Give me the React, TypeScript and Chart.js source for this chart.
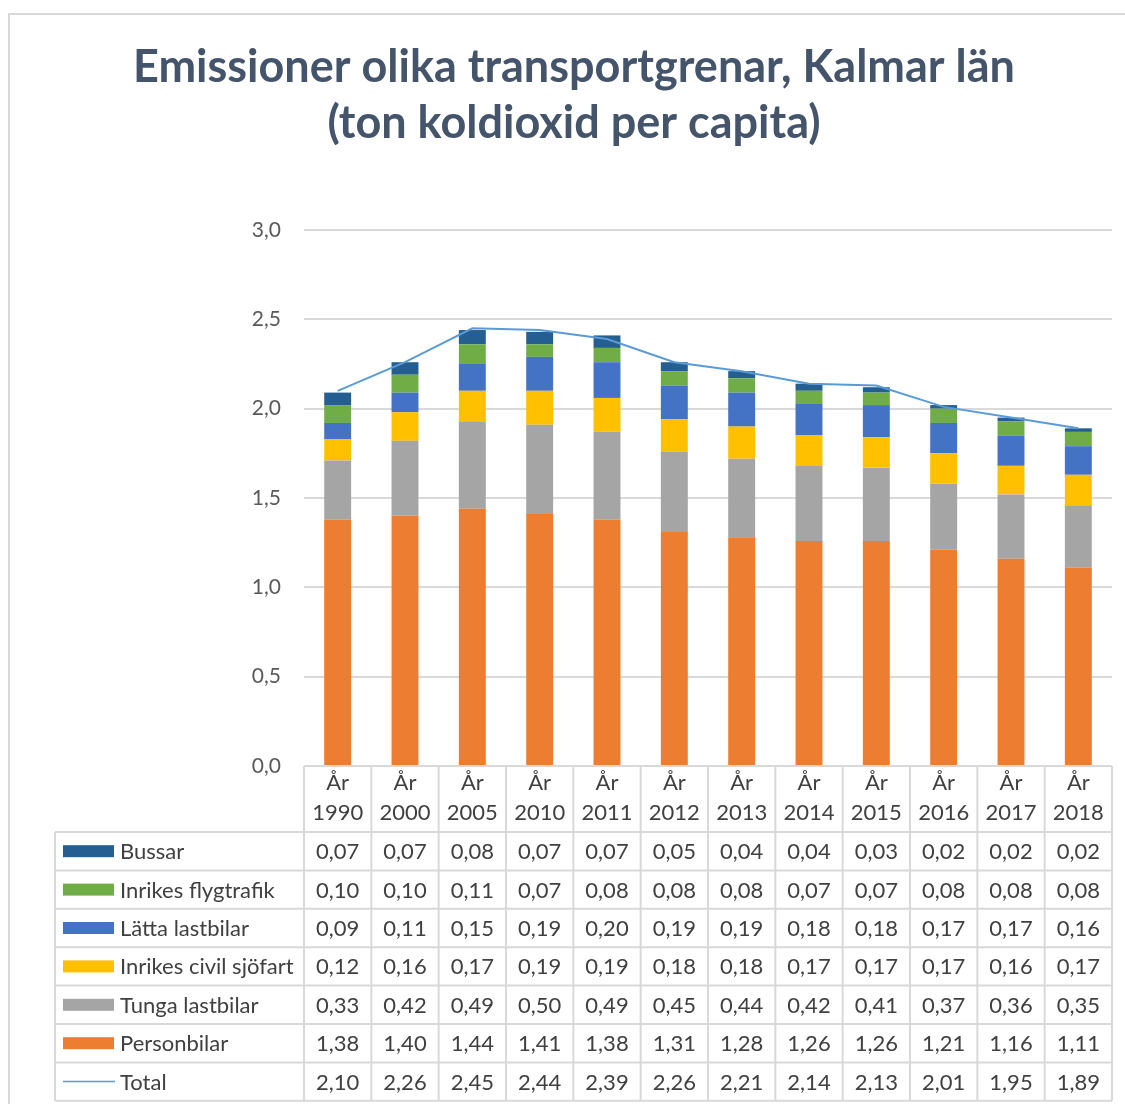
import React, { useEffect, useRef } from 'react';
import { Chart, registerables } from 'chart.js';

Chart.register(...registerables);

const titleLines = ['Emissioner olika transportgrenar, Kalmar län', '(ton koldioxid per capita)'];
const yearPrefix = 'År';
const years = ['1990', '2000', '2005', '2010', '2011', '2012', '2013', '2014', '2015', '2016', '2017', '2018'];

const bussar = [0.07, 0.07, 0.08, 0.07, 0.07, 0.05, 0.04, 0.04, 0.03, 0.02, 0.02, 0.02];
const inrikesFlyg = [0.10, 0.10, 0.11, 0.07, 0.08, 0.08, 0.08, 0.07, 0.07, 0.08, 0.08, 0.08];
const lattaLastbilar = [0.09, 0.11, 0.15, 0.19, 0.20, 0.19, 0.19, 0.18, 0.18, 0.17, 0.17, 0.16];
const sjofart = [0.12, 0.16, 0.17, 0.19, 0.19, 0.18, 0.18, 0.17, 0.17, 0.17, 0.16, 0.17];
const tungaLastbilar = [0.33, 0.42, 0.49, 0.50, 0.49, 0.45, 0.44, 0.42, 0.41, 0.37, 0.36, 0.35];
const personbilar = [1.38, 1.40, 1.44, 1.41, 1.38, 1.31, 1.28, 1.26, 1.26, 1.21, 1.16, 1.11];
const total = [2.10, 2.26, 2.45, 2.44, 2.39, 2.26, 2.21, 2.14, 2.13, 2.01, 1.95, 1.89];

const yMin = 0;
const yMax = 3;
const yStep = 0.5;

const FONT = 'Lato, "Open Sans", sans-serif';
const GRID = '#d9d9d9';
const TEXT = '#404040';

const fmt = (v: number, d: number) => v.toFixed(d).replace('.', ',');

export default function App() {
  const ref = useRef<HTMLCanvasElement | null>(null);

  useEffect(() => {
    const canvas = ref.current;
    if (!canvas) return;

    // bottom-to-top stack order
    const barSeries = [
      { label: 'Personbilar', data: personbilar, color: '#ED7D31' },
      { label: 'Tunga lastbilar', data: tungaLastbilar, color: '#A5A5A5' },
      { label: 'Inrikes civil sjöfart', data: sjofart, color: '#FFC000' },
      { label: 'Lätta lastbilar', data: lattaLastbilar, color: '#4472C4' },
      { label: 'Inrikes flygtrafik', data: inrikesFlyg, color: '#70AD47' },
      { label: 'Bussar', data: bussar, color: '#255E91' },
    ];
    const lineColor = '#5B9BD5';

    // table rows top to bottom
    const tableRows = [
      ...barSeries.slice().reverse().map((s) => ({ label: s.label, data: s.data, color: s.color, line: false })),
      { label: 'Total', data: total, color: lineColor, line: true },
    ];

    const decorPlugin = {
      id: 'decor',
      afterDraw(chart: any) {
        const ctx = chart.ctx as CanvasRenderingContext2D;
        const area = chart.chartArea;
        const x = chart.scales.x;
        const n = years.length;
        const step = x.getPixelForValue(1) - x.getPixelForValue(0);
        const left = x.getPixelForValue(0) - step / 2;
        const right = x.getPixelForValue(n - 1) + step / 2;
        const headerBottom = area.bottom + 66;
        const rowH = 38.4;
        const tableLeft = 55;
        const tableBottom = headerBottom + rowH * tableRows.length;

        ctx.save();
        // outer frame
        ctx.strokeStyle = GRID;
        ctx.lineWidth = 2;
        ctx.beginPath();
        ctx.moveTo(9, 1104);
        ctx.lineTo(9, 14);
        ctx.lineTo(1125, 14);
        ctx.stroke();

        // title
        ctx.fillStyle = '#44546A';
        ctx.font = `bold 45px ${FONT}`;
        ctx.textAlign = 'center';
        ctx.textBaseline = 'alphabetic';
        ctx.fillText(titleLines[0], 574, 82);
        ctx.fillText(titleLines[1], 574, 138);

        // table grid
        ctx.strokeStyle = GRID;
        ctx.lineWidth = 2;
        ctx.beginPath();
        for (let i = 0; i <= n; i++) {
          const cx = left + step * i;
          ctx.moveTo(cx, area.bottom);
          ctx.lineTo(cx, tableBottom);
        }
        ctx.moveTo(tableLeft, headerBottom);
        ctx.lineTo(tableLeft, tableBottom);
        for (let r = 0; r <= tableRows.length; r++) {
          const ry = headerBottom + rowH * r;
          ctx.moveTo(tableLeft, ry);
          ctx.lineTo(right, ry);
        }
        ctx.stroke();

        // rows
        ctx.font = `22px ${FONT}`;
        ctx.textBaseline = 'middle';
        tableRows.forEach((row, r) => {
          const cy = headerBottom + rowH * r + rowH / 2;
          if (row.line) {
            ctx.strokeStyle = row.color;
            ctx.lineWidth = 1.5;
            ctx.beginPath();
            ctx.moveTo(63, cy);
            ctx.lineTo(115, cy);
            ctx.stroke();
          } else {
            ctx.fillStyle = row.color;
            ctx.fillRect(63, cy - 6, 51, 12);
          }
          ctx.fillStyle = TEXT;
          ctx.textAlign = 'left';
          ctx.fillText(row.label, 120, cy + 1);
          ctx.textAlign = 'center';
          row.data.forEach((v, i) => {
            ctx.fillText(fmt(v, 2), x.getPixelForValue(i), cy + 1);
          });
        });
        ctx.restore();
      },
    };

    const chart = new Chart(canvas, {
      type: 'bar',
      data: {
        labels: years.map((y) => [yearPrefix, y]),
        datasets: [
          {
            type: 'line',
            label: 'Total',
            data: total,
            borderColor: lineColor,
            backgroundColor: lineColor,
            borderWidth: 2,
            pointRadius: 0,
            tension: 0,
            stack: 'total',
            order: -1,
          } as any,
          ...barSeries.map((s) => ({
            type: 'bar',
            label: s.label,
            data: s.data,
            backgroundColor: s.color,
            borderWidth: 0,
            stack: 'bars',
            barPercentage: 0.4,
            categoryPercentage: 1,
            order: 0,
          })),
        ],
      },
      options: {
        responsive: false,
        animation: false,
        devicePixelRatio: 1,
        layout: { padding: { left: 36, right: 13, top: 230, bottom: 272 } },
        plugins: {
          legend: { display: false },
          title: { display: false },
          tooltip: { enabled: false },
        },
        scales: {
          x: {
            stacked: true,
            grid: { display: false, drawTicks: false },
            border: { display: false },
            ticks: {
              color: TEXT,
              font: { family: FONT, size: 22, lineHeight: 1.36 },
              padding: 2,
              maxRotation: 0,
              autoSkip: false,
            },
            afterFit: (scale: any) => {
              scale.height = 66;
            },
          },
          y: {
            stacked: true,
            min: yMin,
            max: yMax,
            grid: { color: GRID, lineWidth: 2, drawTicks: false },
            border: { display: false },
            ticks: {
              stepSize: yStep,
              color: '#595959',
              font: { family: FONT, size: 21 },
              padding: 23,
              callback: (v: any) => fmt(Number(v), 1),
            },
            afterFit: (scale: any) => {
              scale.width = 268;
            },
          },
        },
      },
      plugins: [decorPlugin],
    } as any);

    return () => chart.destroy();
  }, []);

  return (
    <div style={{ position: 'absolute', left: 0, top: 0, width: 1125, height: 1104, background: '#fff' }}>
      <canvas ref={ref} width={1125} height={1104} style={{ display: 'block', width: 1125, height: 1104 }} />
    </div>
  );
}
